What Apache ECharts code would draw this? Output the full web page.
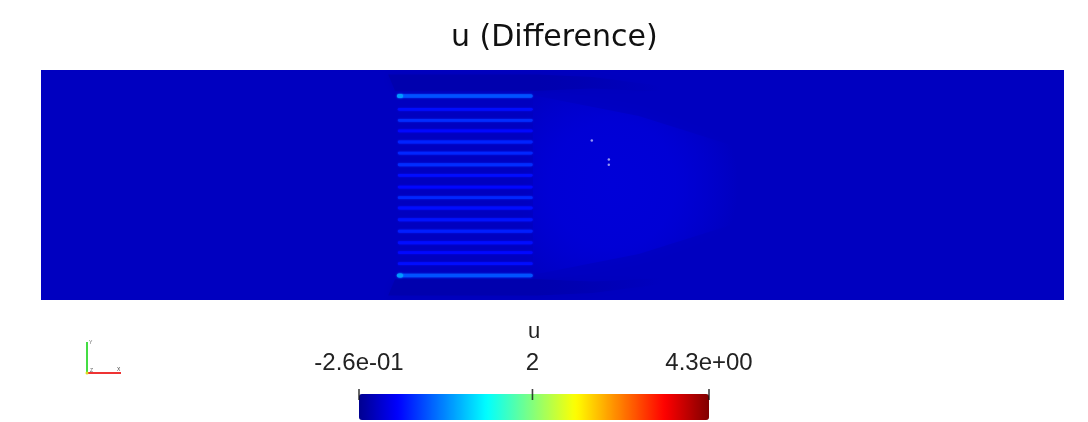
<!DOCTYPE html>
<html><head><meta charset="utf-8">
<script src="https://cdn.jsdelivr.net/npm/echarts@6/dist/echarts.min.js"></script>
<style>html,body{margin:0;padding:0;background:#fff}#c{width:1088px;height:422px}</style>
</head><body><div id="c"></div>
<script>
// ---- data ----
const uRange = [-0.26, 4.3];
const tickValues = [-0.26, 2, 4.3];
const tickLabels = ['-2.6e-01', '2', '4.3e+00'];
const domainX = [0, 44.5];
const domainY = [0, 10];

// field regions (u value + outline in domain coordinates)
const shapeU = [-0.04, -0.12, -0.12, 0.07];
const shapeX = [
  [0, 44.5, 44.5, 0],
  [15.1, 21.6, 24, 27, 27, 24, 21.6, 15.4],
  [15.1, 21.6, 24, 27, 27, 24, 21.6, 15.4],
  [21.4, 26, 33, 33, 26, 21.4]
];
const shapeY = [
  [0, 0, 10, 10],
  [9.8, 9.8, 9.7, 9.3, 9.05, 9.2, 9.1, 9.1],
  [0.2, 0.2, 0.3, 0.7, 0.95, 0.8, 0.9, 0.9],
  [8.9, 8.0, 5.8, 4.2, 2.0, 1.1]
];

// perforation stripes
const stripeX = [15.52, 21.39];
const stripeY = [8.87, 8.29, 7.81, 7.35, 6.87, 6.39, 5.88, 5.42, 4.91, 4.45, 4.00, 3.49, 2.99, 2.49, 2.06, 1.58, 1.06];
const stripeU = [0.62, 0.30, 0.45, 0.28, 0.40, 0.42, 0.45, 0.30, 0.28, 0.42, 0.30, 0.33, 0.38, 0.30, 0.28, 0.30, 0.62];
const capX = [15.48, 15.75];
const capY = [8.87, 1.06];
const capU = [0.95, 0.95];

// small specks
const speckX = [23.96, 24.70, 24.70];
const speckY = [6.93, 6.11, 5.88];

// ---- colormap (ParaView Jet) ----
const jetStops = [[0,[0,0,0.5625]],[0.111111,[0,0,1]],[0.365079,[0,1,1]],[0.492063,[0.5,1,0.5]],[0.619048,[1,1,0]],[0.873016,[1,0,0]],[1,[0.5,0,0]]];
function jetRGB(t){
  for (let k=1;k<jetStops.length;k++){
    if (t<=jetStops[k][0]){
      const a=jetStops[k-1], b=jetStops[k];
      const f=(t-a[0])/(b[0]-a[0]);
      return a[1].map((v,j)=>Math.round(255*(v+(b[1][j]-v)*f)));
    }
  }
  return [128,0,0];
}
const jetColors=[]; for(let i=0;i<=96;i++) jetColors.push('rgb('+jetRGB(i/96).join(',')+')');
function withAlpha(col, a){
  const m=col.match(/[\d.]+/g);
  return 'rgba('+m[0]+','+m[1]+','+m[2]+','+a+')';
}
const shapeBlur=[0, 8, 8, 16];

const chart = echarts.init(document.getElementById('c'));
chart.setOption({
  animation:false,
  backgroundColor:'#fff',
  title:{text:'u (Difference)', left:446, top:18, textStyle:{fontSize:30, fontFamily:'DejaVu Sans', fontWeight:'normal', color:'#111'}},
  grid:[
    {left:41, top:70, width:1023, height:230},
    {left:359, top:389, width:350, height:11}
  ],
  xAxis:[
    {gridIndex:0, type:'value', min:domainX[0], max:domainX[1], show:false},
    {gridIndex:1, type:'value', min:uRange[0], max:uRange[1], position:'top',
     name:'u', nameLocation:'middle', nameGap:46, nameTextStyle:{fontSize:22, fontFamily:'Liberation Sans', color:'#222'},
     axisLine:{show:false}, splitLine:{show:false}, axisTick:{show:false},
     axisLabel:{customValues:tickValues, margin:14, fontSize:24, fontFamily:'Liberation Sans', color:'#222',
       formatter:function(v){let best=0;for(let i=1;i<tickValues.length;i++){if(Math.abs(tickValues[i]-v)<Math.abs(tickValues[best]-v))best=i;}return tickLabels[best];}}}
  ],
  yAxis:[
    {gridIndex:0, type:'value', min:domainY[0], max:domainY[1], show:false},
    {gridIndex:1, type:'value', min:0, max:1, show:false}
  ],
  visualMap:{type:'continuous', min:uRange[0], max:uRange[1], dimension:0, seriesIndex:[0,1,2],
    inRange:{color:jetColors}, orient:'horizontal', left:359, top:394, itemWidth:26, itemHeight:350,
    calculable:false, hoverLink:false, showLabel:false, padding:0, z:1},
  series:[
    {type:'custom', xAxisIndex:0, yAxisIndex:0, clip:true,
     data:shapeU.map((u,i)=>[u,i]),
     renderItem:function(params, api){
       const i=params.dataIndex;
       const pts=shapeX[i].map((x,k)=>api.coord([x, shapeY[i][k]]));
       const col=api.visual('color');
       let fill=col;
       if (i===1 || i===2) {
         fill=new echarts.graphic.LinearGradient(0,0,1,0,[{offset:0,color:col},{offset:0.55,color:col},{offset:1,color:withAlpha(col,0)}]);
       } else if (i===3) {
         fill=new echarts.graphic.RadialGradient(0.3,0.5,0.7,[{offset:0,color:col},{offset:0.5,color:withAlpha(col,0.8)},{offset:1,color:withAlpha(col,0)}]);
       }
       return {type:'polygon', shape:{points:pts}, style:{fill:fill, shadowBlur:shapeBlur[i], shadowColor:withAlpha(col,0.5)}};
     }},
    {type:'custom', xAxisIndex:0, yAxisIndex:0, clip:true,
     data:stripeY.map((y,i)=>[stripeU[i], stripeX[0], stripeX[1], y]),
     renderItem:function(params, api){
       const p0=api.coord([api.value(1), api.value(3)]);
       const p1=api.coord([api.value(2), api.value(3)]);
       const edge = params.dataIndex===0 || params.dataIndex===stripeY.length-1;
       const h = edge ? 3.5 : 2.8;
       const col=api.visual('color');
       return {type:'rect', shape:{x:p0[0], y:p0[1]-h/2, width:p1[0]-p0[0], height:h, r:h/2}, style:{fill:col, shadowBlur:2, shadowColor:col}};
     }},
    {type:'custom', xAxisIndex:0, yAxisIndex:0, clip:true,
     data:capY.map((y,i)=>[capU[i], capX[0], capX[1], y]),
     renderItem:function(params, api){
       const p0=api.coord([api.value(1), api.value(3)]);
       const p1=api.coord([api.value(2), api.value(3)]);
       const col=api.visual('color');
       return {type:'rect', shape:{x:p0[0], y:p0[1]-2, width:p1[0]-p0[0], height:4, r:2}, style:{fill:col, shadowBlur:2, shadowColor:col}};
     }},
    {type:'scatter', xAxisIndex:0, yAxisIndex:0, symbolSize:2.5, silent:true,
     itemStyle:{color:'rgba(210,210,255,0.9)'},
     data:speckX.map((x,i)=>[x, speckY[i]])},
    {type:'scatter', xAxisIndex:1, yAxisIndex:1, symbol:'rect', symbolSize:[1.6, 11], silent:true, zlevel:1,
     itemStyle:{color:'#111'},
     data:tickValues.map(v=>[v, 0.5])}
  ],
  graphic:[
    {type:'line', shape:{x1:87,y1:342,x2:87,y2:373}, style:{stroke:'#44dd44', lineWidth:2}},
    {type:'line', shape:{x1:87,y1:373,x2:121,y2:373}, style:{stroke:'#ee3333', lineWidth:2}},
    {type:'circle', shape:{cx:87,cy:373,r:1.5}, style:{fill:'#dddd22'}},
    {type:'text', x:89, y:340, style:{text:'Y', fontSize:5, fill:'#666'}},
    {type:'text', x:90, y:368, style:{text:'Z', fontSize:5, fill:'#666'}},
    {type:'text', x:117, y:367, style:{text:'X', fontSize:5, fill:'#444'}}
  ]
});
</script>
</body></html>
